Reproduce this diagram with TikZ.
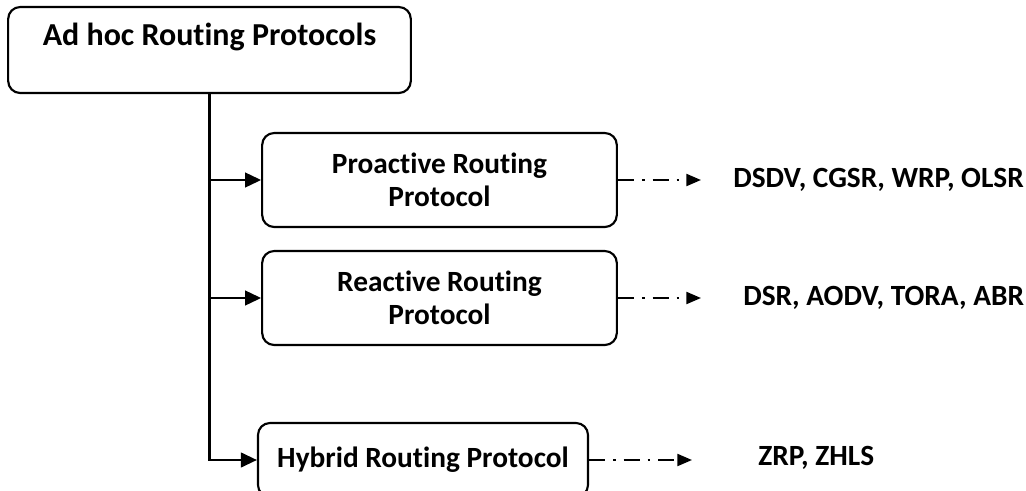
\documentclass[tikz,border=0pt]{standalone}
\usepackage{fontspec}
\setmainfont{Carlito}[Ligatures=CommonOff]
\usepackage{tikz}
\usetikzlibrary{positioning,arrows.meta,calc}

\begin{document}
\begin{tikzpicture}[
    x=0.75pt, y=-0.75pt,
    % --- Node styles ---
    protobox/.style={
      rectangle, rounded corners=9pt, draw=black, line width=1.6pt,
      font=\fontsize{22}{25}\selectfont\bfseries,
      align=center, inner sep=2pt,
    },
    rootbox/.style={protobox, minimum width=302pt, minimum height=64.5pt},
    classbox/.style={protobox, minimum width=266pt, minimum height=70.5pt},
    hybbox/.style={protobox, minimum width=247.5pt, minimum height=55.5pt},
    examples/.style={font=\fontsize{22}{25}\selectfont\bfseries, anchor=west, inner sep=0pt},
    % --- Arrow styles ---
    tree/.style={-{Triangle[length=12pt, width=11pt]}, line width=1.6pt},
    dashdot/.style={-{Triangle[length=11pt, width=9pt]}, line width=1.6pt,
      dash pattern=on 12pt off 6pt on 2pt off 6pt},
  ]

    \clip (0,0) rectangle (1026,490);

    % ===================== ROOT =====================
    \node[rootbox] (root) at (209.5,50) {};
    \node[font=\fontsize{24}{28}\selectfont\bfseries] (title) at (209.5,37) {Ad hoc Routing Protocols};

    % ===================== CLASSES =====================
    \node[classbox] (pro) at (439.5,180) {Proactive Routing\\Protocol};
    \node[classbox] (rea) at (439.5,298) {Reactive Routing\\Protocol};
    \node[hybbox]   (hyb) at (423,460)   {Hybrid Routing Protocol};

    % ===================== EXAMPLES =====================
    \node[examples] (proex) at (733,180) {DSDV, CGSR, WRP, OLSR};
    \node[examples] (reaex) at (743,298) {DSR, AODV, TORA, ABR};
    \node[examples] (hybex) at (758,458) {ZRP, ZHLS};

    \coordinate (protip) at (701,180);
    \coordinate (reatip) at (701,298);
    \coordinate (hybtip) at (692,460);

    % ===================== TREE CONNECTORS =====================
    \draw[tree] (root.south) |- (hyb.west);
    \draw[tree] (root.south |- pro.west) -- (pro.west);
    \draw[tree] (root.south |- rea.west) -- (rea.west);

    % ===================== DASH-DOT ARROWS =====================
    \draw[dashdot] (pro.east) -- (protip);
    \draw[dashdot] (rea.east) -- (reatip);
    \draw[dashdot] (hyb.east) -- (hybtip);

  \end{tikzpicture}
\end{document}
